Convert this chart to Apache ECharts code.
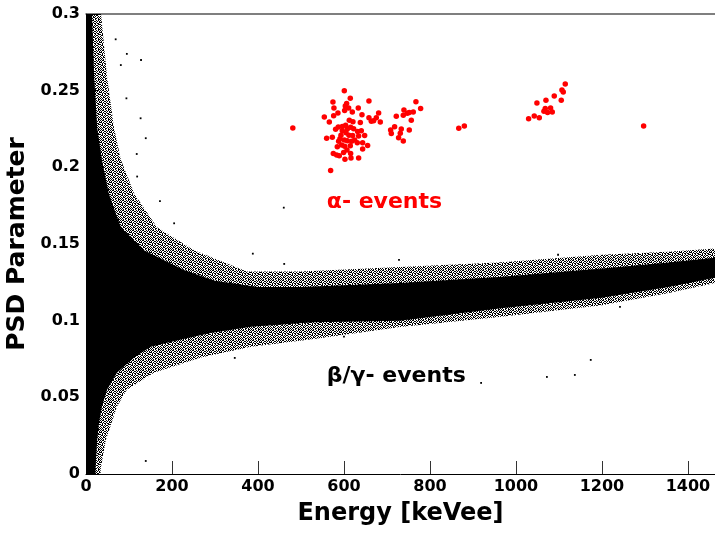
<!DOCTYPE html>
<html>
<head>
<meta charset="utf-8">
<script src="https://cdn.jsdelivr.net/npm/echarts@6/dist/echarts.min.js"></script>
<style>
  html, body { margin: 0; padding: 0; background: #fff; }
  #chart { width: 715px; height: 533px; }
</style>
</head>
<body>
<div id="chart"></div>
<script>
// beta/gamma band (energy keVee, PSD)
var coreTopE = [0, 14, 19, 26, 37, 53, 81, 135, 228, 300, 400, 500, 730, 960, 1200, 1355, 1463];
var coreTopP = [0.3, 0.3, 0.259, 0.226, 0.205, 0.183, 0.161, 0.146, 0.133, 0.126, 0.122, 0.122, 0.1246, 0.1285, 0.134, 0.138, 0.141];
var coreBotE = [1463, 1355, 1200, 960, 730, 530, 384, 290, 211, 151, 112, 72, 49, 37, 30, 26, 22, 22, 0];
var coreBotP = [0.128, 0.122, 0.115, 0.108, 0.100, 0.099, 0.096, 0.092, 0.087, 0.083, 0.076, 0.066, 0.055, 0.044, 0.033, 0.022, 0.003, 0, 0];

var haloTopE = [0, 35, 49, 65, 81, 112, 165, 251, 374, 500, 730, 960, 1200, 1355, 1463];
var haloTopP = [0.3, 0.3, 0.259, 0.226, 0.205, 0.183, 0.161, 0.146, 0.132, 0.132, 0.135, 0.138, 0.143, 0.145, 0.147];
var haloBotE = [1463, 1355, 1200, 960, 730, 530, 384, 267, 158, 95, 72, 46, 34, 34, 0];
var haloBotP = [0.1246, 0.118, 0.110, 0.1024, 0.0959, 0.088, 0.083, 0.076, 0.066, 0.055, 0.044, 0.022, 0.003, 0, 0];

// isolated black events outside the band
var strayE = [460, 388, 461, 346, 139, 1242, 728, 1098, 600, 128, 95, 69, 127, 139, 172, 119, 205, 94, 81, 118, 1072, 1137, 1174, 919];
var strayP = [0.1737, 0.1437, 0.137, 0.0757, 0.0085, 0.109, 0.1396, 0.143, 0.0896, 0.270, 0.274, 0.2835, 0.232, 0.219, 0.178, 0.194, 0.1635, 0.245, 0.2667, 0.2087, 0.0633, 0.0646, 0.0744, 0.0594];

// alpha events (red)
var alphaE = [600.8, 614.7, 574.4, 658.1, 606.2, 603.1, 576.7, 610.9, 633.3, 601.6, 619.4, 586.0, 641.9, 554.3, 576.0,
  680.6, 658.1, 675.2, 565.9, 612.4, 620.9, 638.0, 663.6, 669.0, 684.5, 596.1, 586.8, 580.6, 603.9, 607.8,
  615.5, 622.5, 596.1, 640.3, 631.8, 604.7, 593.0, 611.6, 620.2, 634.1, 648.1, 572.9, 559.7, 590.7, 600.8,
  587.6, 607.8, 617.8, 624.8, 631.0, 643.4, 594.6, 584.5, 601.6, 614.7, 655.0, 607.0, 643.4, 575.2, 582.9,
  589.1, 599.2, 615.5, 616.3, 634.1, 602.3, 569.0,
  767.4, 778.3, 739.5, 747.3, 751.9, 761.2, 721.7, 738.0, 756.6, 717.8, 708.5, 733.3, 751.9, 710.1, 731.0,
  727.1, 738.0, 867, 880, 481,
  1029.5, 1042.6, 1054.3, 1048.8, 1069.8, 1065.1, 1068.2, 1073.6, 1080.6, 1084.5, 1089.1, 1105.4, 1107.0,
  1110.1, 1114.7, 1297];
var alphaP = [0.2500, 0.2450, 0.2426, 0.2433, 0.2417, 0.2400, 0.2387, 0.2387, 0.2387, 0.2370, 0.2361, 0.2354, 0.2343, 0.2328, 0.2337,
  0.2354, 0.2324, 0.2324, 0.2296, 0.2307, 0.2298, 0.2293, 0.2300, 0.2304, 0.2296, 0.2267, 0.2263, 0.2248, 0.2274, 0.2250,
  0.2261, 0.2252, 0.2239, 0.2239, 0.2233, 0.2226, 0.2209, 0.2209, 0.2207, 0.2204, 0.2207, 0.2196, 0.2189, 0.2187, 0.2178,
  0.2170, 0.2174, 0.2170, 0.2178, 0.2161, 0.2161, 0.2146, 0.2135, 0.2137, 0.2141, 0.2143, 0.2113, 0.2120, 0.2091, 0.2080,
  0.2076, 0.2096, 0.2091, 0.2061, 0.2061, 0.2052, 0.1980,
  0.2428, 0.2383, 0.2374, 0.2352, 0.2357, 0.2361, 0.2333, 0.2339, 0.2307, 0.2265, 0.2243, 0.2250, 0.2243, 0.2220, 0.2222,
  0.2193, 0.2172, 0.2255, 0.2270, 0.2257,
  0.2317, 0.2335, 0.2324, 0.2420, 0.2437, 0.2365, 0.2383, 0.2357, 0.2387, 0.2361, 0.2465, 0.2437, 0.2504,
  0.2491, 0.2543, 0.2270];

var xTicks = { min: 0, max: 1463, interval: 200 };
var yTicks = { min: 0, max: 0.3, interval: 0.05 };

var FONT = 'DejaVu Sans';

// speckle texture for the thin edge of the band
function speckle(mask) {
  var c = document.createElement('canvas');
  c.width = mask[0].length;
  c.height = mask.length;
  var ctx = c.getContext('2d');
  ctx.fillStyle = '#000';
  mask.forEach(function (row, y) {
    row.split('').forEach(function (ch, x) {
      if (ch === '#') ctx.fillRect(x, y, 1, 1);
    });
  });
  return c;
}
var haloTex = speckle([
  '#.##..#.#.',
  '.#..##.#.#',
  '##.#..#..#',
  '..#.##.##.',
  '#.#..#..##',
  '.##.#.##..',
  '#..#.#..#.',
  '.#.##..#.#',
  '#.#..##.#.',
  '.#.#.#..##'
]);

function zip(a, b) { return a.map(function (v, i) { return [v, b[i]]; }); }

function bandSeries(name, topE, topP, botE, botP, fill, z) {
  var outline = zip(topE, topP).concat(zip(botE, botP));
  return {
    name: name,
    type: 'custom',
    coordinateSystem: 'cartesian2d',
    silent: true,
    z: z,
    data: [[0, 0]],
    renderItem: function (params, api) {
      return {
        type: 'polygon',
        shape: { points: outline.map(function (p) { return api.coord(p); }) },
        style: { fill: fill }
      };
    }
  };
}

var chart = echarts.init(document.getElementById('chart'));
chart.setOption({
  animation: false,
  backgroundColor: '#fff',
  grid: { left: 86, top: 14, right: 0, bottom: 59, outerBoundsMode: 'none', containLabel: false },
  xAxis: [{
    type: 'value',
    min: xTicks.min, max: xTicks.max, interval: xTicks.interval,
    name: 'Energy [keVee]',
    nameLocation: 'middle',
    nameGap: 28,
    nameTextStyle: { fontFamily: FONT, fontWeight: 'bold', fontSize: 24, color: '#000' },
    axisLine: { lineStyle: { color: '#000', width: 1 } },
    axisTick: { inside: true, length: 13, lineStyle: { color: '#333' } },
    axisLabel: {
      fontFamily: FONT, fontWeight: 'bold', fontSize: 16, color: '#000', margin: 5, showMaxLabel: false,
      formatter: function (v) { return String(v); }
    },
    splitLine: { show: false }
  }, {
    type: 'value', position: 'top',
    min: xTicks.min, max: xTicks.max,
    axisLine: { lineStyle: { color: '#555', width: 1.5 } },
    axisTick: { show: false }, axisLabel: { show: false }, splitLine: { show: false }
  }],
  yAxis: {
    type: 'value',
    min: yTicks.min, max: yTicks.max, interval: yTicks.interval,
    name: 'PSD Parameter',
    nameLocation: 'middle',
    nameGap: 50,
    nameTextStyle: { fontFamily: FONT, fontWeight: 'bold', fontSize: 25, color: '#000' },
    axisLine: { show: true, lineStyle: { color: '#000' } },
    axisTick: { show: true, inside: true, length: 13, lineStyle: { color: '#000' } },
    axisLabel: { fontFamily: FONT, fontWeight: 'bold', fontSize: 16, color: '#000', margin: 6 },
    splitLine: { show: false }
  },
  series: [
    bandSeries('halo', haloTopE, haloTopP, haloBotE, haloBotP, { image: haloTex, repeat: 'repeat' }, 1),
    bandSeries('core', coreTopE, coreTopP, coreBotE, coreBotP, '#000', 2),
    {
      name: 'stray', type: 'scatter', z: 3, silent: true,
      symbol: 'rect', symbolSize: 1.8,
      itemStyle: { color: '#000', opacity: 1 },
      data: zip(strayE, strayP)
    },
    {
      name: 'alpha', type: 'scatter', z: 4, silent: true,
      symbol: 'circle', symbolSize: 5.5,
      itemStyle: { color: '#ff0000', opacity: 1 },
      data: zip(alphaE, alphaP)
    },
    {
      name: 'notes', type: 'scatter', z: 5, silent: true,
      symbolSize: 0,
      itemStyle: { opacity: 1 },
      data: [
        { value: [560, 0.1774], label: { formatter: 'α- events', color: '#ff0000' } },
        { value: [560, 0.0635], label: { formatter: 'β/γ- events', color: '#000000' } }
      ],
      label: {
        show: true, position: [0, 0], align: 'left', verticalAlign: 'middle',
        fontFamily: FONT, fontWeight: 'bold', fontSize: 22, opacity: 1
      }
    }
  ]
});
</script>
</body>
</html>
